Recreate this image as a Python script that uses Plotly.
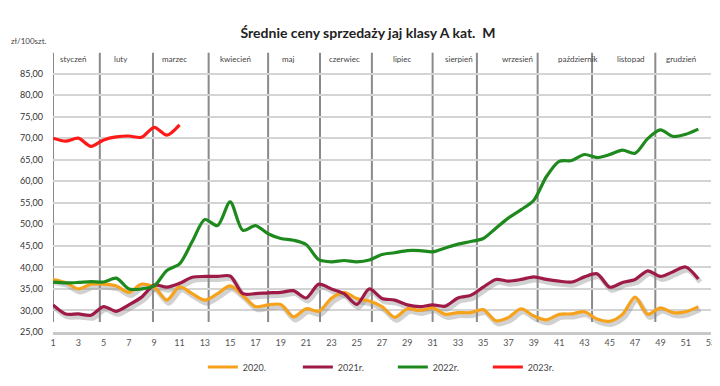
import plotly.graph_objects as go

weeks = list(range(1, 53))
weeks_2023 = list(range(1, 12))

y2020 = [37.2, 36.5, 35.0, 36.1, 36.1, 35.7, 34.2, 36.1, 35.4, 32.4,
         35.5, 33.9, 32.4, 33.9, 35.7, 33.5, 30.9, 31.3, 31.4, 28.5,
         30.4, 29.8, 32.8, 34.2, 32.8, 32.2, 30.9, 28.4, 30.4, 30.0,
         30.6, 29.1, 29.5, 29.5, 30.2, 27.6, 28.4, 30.4, 28.7, 27.8,
         29.1, 29.2, 29.7, 28.0, 27.5, 29.1, 33.1, 29.1, 30.6, 29.5,
         29.7, 30.9]
y2021 = [31.3, 29.2, 29.2, 28.9, 30.9, 29.8, 31.3, 33.1, 35.9, 35.4,
         36.3, 37.7, 37.9, 37.9, 38.0, 33.9, 33.9, 34.1, 34.2, 34.6,
         32.9, 36.1, 35.0, 33.9, 31.4, 35.0, 32.8, 32.4, 31.3, 30.9,
         31.3, 31.0, 32.9, 33.5, 35.4, 37.2, 36.8, 37.2, 37.8, 37.2,
         36.8, 36.6, 37.8, 38.5, 35.4, 36.5, 37.2, 39.2, 37.9, 39.0,
         40.1, 37.3]
y2022 = [36.6, 36.4, 36.5, 36.7, 36.6, 37.5, 35.0, 35.0, 35.7, 39.3,
         40.8, 46.0, 51.1, 49.7, 55.2, 48.6, 49.7, 47.8, 46.7, 46.3,
         45.3, 41.8, 41.3, 41.6, 41.3, 41.7, 43.0, 43.4, 43.9, 43.9,
         43.6, 44.5, 45.4, 46.0, 46.7, 49.1, 51.5, 53.4, 55.6, 61.1,
         64.6, 64.8, 66.2, 65.5, 66.2, 67.2, 66.5, 69.9, 71.9, 70.4,
         70.9, 72.1]
y2023 = [70.0, 69.3, 70.0, 68.1, 69.6, 70.3, 70.5, 70.2, 72.5, 70.7, 73.1]

series_names = ["2020.", "2021r.", "2022r.", "2023r."]
series_colors = ["#F7A21B", "#9E1B47", "#1E8A1E", "#FF1A1A"]

month_names = ["styczeń", "luty", "marzec", "kwiecień", "maj", "czerwiec",
               "lipiec", "sierpień", "wrzesień", "październik", "listopad", "grudzień"]
month_bounds = [1, 4.7, 8.9, 13.3, 18, 22.1, 26.2, 31, 34.5, 39.3, 43.6, 48.6]
month_label_pos = [2.6, 6.4, 10.6, 15.4, 19.6, 24.0, 28.6, 33.1, 37.7, 42.5, 46.7, 50.6]

y_ticks = list(range(25, 90, 5))
y_ticktext = [f"{v:.2f}".replace(".", ",") for v in y_ticks]
x_ticks = list(range(1, 54, 2))

FONT = "Lato"
L, R = 44, 13
PW = 720 - L - R

fig = go.Figure()

# shadows for 2020 and 2021
for ys in (y2020, y2021):
    fig.add_trace(go.Scatter(
        x=[w + 0.15 for w in weeks], y=[v - 0.7 for v in ys], mode="lines",
        line=dict(color="rgba(140,140,140,0.40)", width=5, shape="spline", smoothing=0.8),
        showlegend=False, hoverinfo="skip"))

data = [(weeks, y2020), (weeks, y2021), (weeks, y2022), (weeks_2023, y2023)]
for (xs, ys), name, col in zip(data, series_names, series_colors):
    fig.add_trace(go.Scatter(
        x=xs, y=ys, mode="lines", name=name,
        line=dict(color=col, width=3.2, shape="spline", smoothing=0.8)))

for b in month_bounds:
    fig.add_shape(type="line", xref="x", yref="y", x0=b, x1=b, y0=27.3, y1=89.8,
                  line=dict(color="#8a8a8a", width=2), layer="below")

for name, pos in zip(month_names, month_label_pos):
    fig.add_annotation(x=pos, y=88.3, xref="x", yref="y", text=name, showarrow=False,
                       font=dict(family=FONT, size=8, color="#444444"))

fig.add_annotation(x=-L / PW, y=1 + 12 / 294, xref="paper", yref="paper",
                   xanchor="left", yanchor="middle", text="zł/100szt.", showarrow=False,
                   font=dict(family=FONT, size=8, color="#444444"))

fig.update_layout(
    width=720, height=386,
    margin=dict(l=L, r=R, t=44, b=48),
    paper_bgcolor="white", plot_bgcolor="white",
    font=dict(family=FONT, size=9, color="#333333"),
    title=dict(text="<b>Średnie ceny sprzedaży jaj klasy A kat.  M</b>",
               x=0.5, xanchor="center", y=1 - 25 / 386, yanchor="middle",
               font=dict(family=FONT, size=14, color="#222222")),
    xaxis=dict(range=[1, 53], tickvals=x_ticks, showgrid=False, zeroline=False,
               showline=True, linecolor="#c8c8c8", linewidth=3,
               tickfont=dict(family=FONT, size=9, color="#555555"), ticks=""),
    yaxis=dict(range=[25, 90], tickvals=y_ticks, ticktext=y_ticktext,
               showgrid=True, gridcolor="#d4d4d4", gridwidth=1.5, zeroline=False,
               showline=False, ticks="", ticklabelstandoff=9,
               tickfont=dict(family=FONT, size=9, color="#333333")),
    legend=dict(orientation="h", x=(195 - L) / PW, xanchor="left", y=-0.125,
                yanchor="middle", entrywidth=50, entrywidthmode="pixels",
                font=dict(family=FONT, size=9, color="#444444"), bgcolor="rgba(0,0,0,0)"),
)

fig.write_html("out.html")
